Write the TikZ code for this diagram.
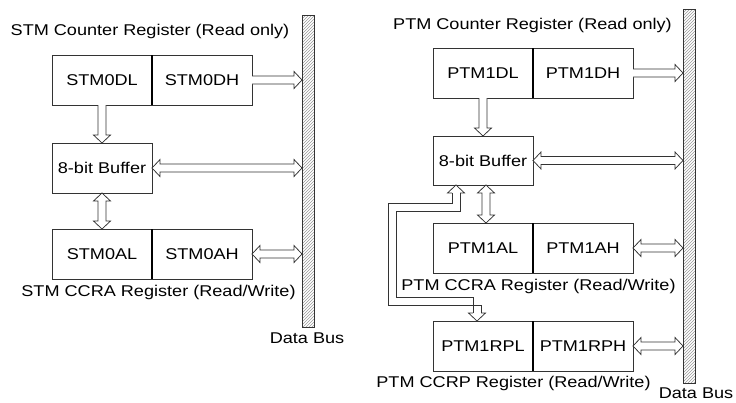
\documentclass[tikz,border=0pt]{standalone}
\usepackage{fontspec}
\setmainfont{Liberation Sans}[FakeStretch=1.16]
\usetikzlibrary{calc,patterns}
\newcommand\fs{\fontsize{15.6}{18}\selectfont}
\tikzset{
  reg/.style={draw=black!80, line width=0.8pt, minimum width=100pt, minimum height=50pt, inner sep=0pt, outer sep=0pt, font=\fs},
  lbl/.style={inner sep=0pt, outer sep=0pt, font=\fs},
  busbar/.style={draw=black!80, line width=0.8pt, pattern=north east lines, pattern color=black!40, minimum width=12pt, inner sep=0pt, outer sep=0pt},
  harrow/.style={draw=black!80, line width=0.75pt, fill=white, line join=miter},
  divider/.style={draw=black, line width=1.2pt},
  hline/.style={draw=black!80, line width=0.75pt, line join=miter},
}
% single headed hollow arrow from #1 to #2
\newcommand\oneway[2]{%
 \draw[harrow] ($(#1)!4pt!-90:(#2)$) -- ($(#2)!8pt!(#1)!4pt!90:(#1)$) -- ($(#2)!8pt!(#1)!8.5pt!90:(#1)$) -- (#2) -- ($(#2)!8pt!(#1)!8.5pt!-90:(#1)$) -- ($(#2)!8pt!(#1)!4pt!-90:(#1)$) -- ($(#1)!4pt!90:(#2)$);}
% double headed hollow arrow between #1 and #2
\newcommand\twoway[2]{%
 \draw[harrow] (#1) -- ($(#1)!8pt!(#2)!8.5pt!-90:(#2)$) -- ($(#1)!8pt!(#2)!4pt!-90:(#2)$) -- ($(#2)!8pt!(#1)!4pt!90:(#1)$) -- ($(#2)!8pt!(#1)!8.5pt!90:(#1)$) -- (#2) -- ($(#2)!8pt!(#1)!8.5pt!-90:(#1)$) -- ($(#2)!8pt!(#1)!4pt!-90:(#1)$) -- ($(#1)!8pt!(#2)!4pt!90:(#2)$) -- ($(#1)!8pt!(#2)!8.5pt!90:(#2)$) -- cycle;}
\begin{document}
\begin{tikzpicture}[x=1pt,y=-1pt]
\useasboundingbox (0,0) rectangle (736,402);
% ---------------- left: STM ----------------
\node[busbar, minimum height=312pt] (busL) at (308,171) {};
\node[lbl] (tL) at (150,31) {STM Counter Register (Read only)};
\node[reg] (sdl) at (102,80) {STM0DL};
\node[reg] (sdh) at (202,80) {STM0DH};
\node[reg] (sbuf) at (102,168) {8-bit Buffer};
\node[reg] (sal) at (102,254) {STM0AL};
\node[reg] (sah) at (202,254) {STM0AH};
\node[lbl] (cL) at (158.5,292) {STM CCRA Register (Read/Write)};
\node[lbl] (dbL) at (307,338) {Data Bus};
\draw[divider] (sdl.north east) -- (sdl.south east);
\draw[divider] (sal.north east) -- (sal.south east);
\coordinate (a1) at (sdh.east -| busL.west);
\coordinate (a2) at (sbuf.east -| busL.west);
\coordinate (a3) at (sah.east -| busL.west);
\oneway{sdh.east}{a1}
\oneway{sdl.south}{sbuf.north}
\twoway{sbuf.east}{a2}
\twoway{sbuf.south}{sal.north}
\twoway{sah.east}{a3}
% ---------------- right: PTM ----------------
\node[busbar, minimum height=374pt] (busR) at (689,196) {};
\node[lbl] (tR) at (532.5,25) {PTM Counter Register (Read only)};
\node[reg] (pdl) at (483,73) {PTM1DL};
\node[reg] (pdh) at (583,73) {PTM1DH};
\node[reg, minimum height=49pt] (pbuf) at (483,160.5) {8-bit Buffer};
\node[reg] (pal) at (483,248) {PTM1AL};
\node[reg] (pah) at (583,248) {PTM1AH};
\node[lbl] (cR) at (538.5,286) {PTM CCRA Register (Read/Write)};
\node[reg] (prl) at (483,346) {PTM1RPL};
\node[reg] (prh) at (583,346) {PTM1RPH};
\node[lbl] (cP) at (513.5,383) {PTM CCRP Register (Read/Write)};
\node[lbl] (dbR) at (696,393) {Data Bus};
\draw[divider] (pdl.north east) -- (pdl.south east);
\draw[divider] (pal.north east) -- (pal.south east);
\draw[divider] (prl.north east) -- (prl.south east);
\coordinate (b1) at (pdh.east -| busR.west);
\coordinate (b2) at (pbuf.east -| busR.west);
\coordinate (b3) at (pah.east -| busR.west);
\coordinate (b4) at (prh.east -| busR.west);
\oneway{pdh.east}{b1}
\oneway{pdl.south}{pbuf.north}
\twoway{pbuf.east}{b2}
\twoway{[xshift=3pt]pbuf.south}{[xshift=3pt]pal.north}
\twoway{pah.east}{b3}
\twoway{prh.east}{b4}
% routed hollow arrow buffer <-> PTM1RPL
\coordinate (r0) at ([xshift=-27pt]pbuf.south);
\coordinate (r1) at (456,207);
\coordinate (r2) at (392,207);
\coordinate (r3) at (392,301);
\coordinate (r4) at (477,301);
\coordinate (r5) at (477,0 |- prl.north);
% heads
\draw[harrow] ([shift={(-4,8)}]r0) -- ([shift={(-8.5,8)}]r0) -- (r0) -- ([shift={(8.5,8)}]r0) -- ([shift={(4,8)}]r0);
\draw[harrow] ([shift={(-4,-8)}]r5) -- ([shift={(-8.5,-8)}]r5) -- (r5) -- ([shift={(8.5,-8)}]r5) -- ([shift={(4,-8)}]r5);
% shaft sides
\draw[hline] ([shift={(-4,8)}]r0) -- ([shift={(-4,-4)}]r1) -- ([shift={(-4,-4)}]r2) -- ([shift={(-4,4)}]r3) -- ([shift={(4,4)}]r4) -- ([shift={(4,-8)}]r5);
\draw[hline] ([shift={(4,8)}]r0) -- ([shift={(4,4)}]r1) -- ([shift={(4,4)}]r2) -- ([shift={(4,-4)}]r3) -- ([shift={(-4,-4)}]r4) -- ([shift={(-4,-8)}]r5);
\end{tikzpicture}
\end{document}
